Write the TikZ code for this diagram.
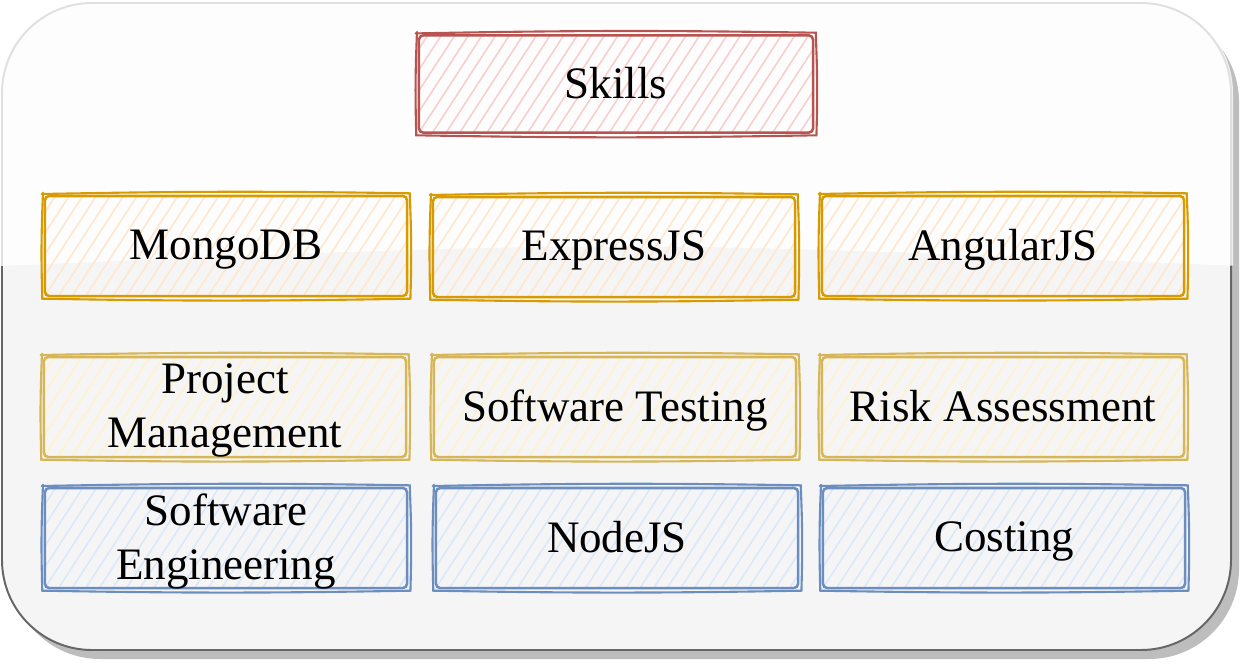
\documentclass[tikz,border=0pt]{standalone}
\usepackage{fontspec}
\setmainfont{Liberation Serif}
\definecolor{redline}{HTML}{B85450}
\definecolor{redfill}{HTML}{F8CECC}
\definecolor{orangeline}{HTML}{D79B00}
\definecolor{orangefill}{HTML}{FFE6CC}
\definecolor{yellowline}{HTML}{D6B656}
\definecolor{yellowfill}{HTML}{FFF2CC}
\definecolor{blueline}{HTML}{6C8EBF}
\definecolor{bluefill}{HTML}{DAE8FC}
\definecolor{panelfill}{HTML}{F5F5F5}
\definecolor{panelline}{HTML}{666666}
\definecolor{panelshadow}{HTML}{BDBDBD}
\newcommand\skillfont{\fontsize{32}{38}\selectfont}
\tikzset{
	skillbox/.style 2 args={minimum width=9.05cm, minimum height=2.5cm, align=center, font=\skillfont, inner sep=2pt, text depth=0.22em,
		path picture={\foreach \k in {-12,...,32} \draw[#2, line width=1.1pt] ([xshift=\k*0.34cm]path picture bounding box.south west) -- ++(57:4cm);},
		draw=#1, line width=1.8pt, rounded corners=3pt},
	sketchline/.style={line width=1.5pt, line cap=round},
}
\begin{document}
\begin{tikzpicture}[x=0.025cm,y=-0.025cm]
	\useasboundingbox (0,0) rectangle (1240,664);
	% panel with shadow
		\fill [panelshadow, rounded corners=2.25cm] (10,12) rectangle (1239,659);
		\fill [panelfill, rounded corners=2.25cm] (2,3) rectangle (1231,650);
		\draw [panelline, line width=1.4pt, rounded corners=2.25cm] (2,3) rectangle (1231,650);
	% glass
		\begin{scope}
			\clip [rounded corners=2.3cm] (0,1) rectangle (1233,652);
			\fill [white, opacity=0.8] (0,0) -- (0,266) .. controls (616,240) .. (1240,266) -- (1240,0) -- cycle;
		\end{scope}
	% title
		\node [skillbox={redline}{redfill}, minimum width=9.85cm, minimum height=2.43cm] (skills) at (616,84) {Skills};
	% stack
		\node [skillbox={orangeline}{orangefill}] (mongo) at (226,246) {MongoDB};
		\node [skillbox={orangeline}{orangefill}] (express) at (614,247) {ExpressJS};
		\node [skillbox={orangeline}{orangefill}] (angular) at (1003,246) {AngularJS};
	% management
		\node [skillbox={yellowline}{yellowfill}] (project) at (225,407) {Project\\Management};
		\node [skillbox={yellowline}{yellowfill}] (testing) at (615,407) {Software Testing};
		\node [skillbox={yellowline}{yellowfill}] (risk) at (1003,407) {Risk Assessment};
	% engineering
		\node [skillbox={blueline}{bluefill}] (engineering) at (226,538) {Software\\Engineering};
		\node [skillbox={blueline}{bluefill}] (node) at (617,538) {NodeJS};
		\node [skillbox={blueline}{bluefill}] (costing) at (1004,538) {Costing};
	% second hand-drawn stroke
		\foreach \n/\c in {skills/redline, mongo/orangeline, express/orangeline, angular/orangeline,
			project/yellowline, testing/yellowline, risk/yellowline,
			engineering/blueline, node/blueline, costing/blueline}
			\draw [sketchline, \c] ([shift={(-1.5pt,0.5pt)}]\n.north west) to [bend left=1] ([shift={(1pt,1pt)}]\n.north east)
				to [bend left=2] ([shift={(1.5pt,-1pt)}]\n.south east) to [bend left=1] ([shift={(-1pt,-1pt)}]\n.south west)
				to [bend left=2] ([shift={(-0.5pt,1.5pt)}]\n.north west);
\end{tikzpicture}
\end{document}
